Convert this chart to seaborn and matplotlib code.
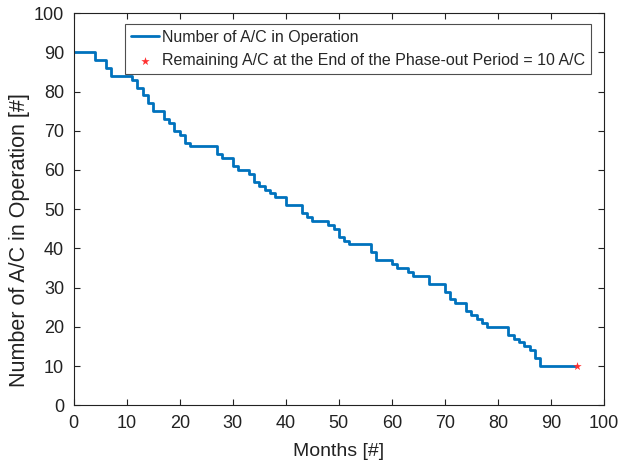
import matplotlib
matplotlib.use("Agg")
import matplotlib.pyplot as plt
import seaborn as sns
import pandas as pd

# Fleet size per month during the phase-out
months = list(range(0, 96))
aircraft = [
    90, 90, 90, 90, 88, 88, 86, 84, 84, 84,
    84, 83, 81, 79, 77, 75, 75, 73, 72, 70,
    69, 67, 66, 66, 66, 66, 66, 64, 63, 63,
    61, 60, 60, 59, 57, 56, 55, 54, 53, 53,
    51, 51, 51, 49, 48, 47, 47, 47, 46, 45,
    43, 42, 41, 41, 41, 41, 39, 37, 37, 37,
    36, 35, 35, 34, 33, 33, 33, 31, 31, 31,
    29, 27, 26, 26, 24, 23, 22, 21, 20, 20,
    20, 20, 18, 17, 16, 15, 14, 12, 10, 10,
    10, 10, 10, 10, 10, 10,
]
end_month = [95]
end_remaining = [10]

x_ticks = list(range(0, 101, 10))
y_ticks = list(range(0, 101, 10))

df = pd.DataFrame({"month": months, "aircraft": aircraft})
df_end = pd.DataFrame({"month": end_month, "aircraft": end_remaining})

sns.set_style("ticks")
plt.rcParams["font.family"] = ["Liberation Sans", "DejaVu Sans"]

fig = plt.figure(figsize=(6.2, 4.69), dpi=100)
ax = fig.add_axes([0.119, 0.136, 0.855, 0.836])

sns.lineplot(data=df, x="month", y="aircraft", ax=ax, color="#0072BD",
             linewidth=2.0, drawstyle="steps-post",
             label="Number of A/C in Operation")
sns.scatterplot(data=df_end, x="month", y="aircraft", ax=ax, color="#FF3030",
                marker="*", s=40, linewidth=0,
                label="Remaining A/C at the End of the Phase-out Period = 10 A/C",
                zorder=5)

ax.set_xlim(0, 100)
ax.set_ylim(0, 100)
ax.set_xticks(x_ticks)
ax.set_yticks(y_ticks)
ax.tick_params(direction="in", top=True, right=True, labelsize=13,
               length=4, width=0.8, colors="#222222", pad=7)
for s in ax.spines.values():
    s.set_color("#222222")
    s.set_linewidth(0.8)

ax.set_xlabel("Months [#]", fontsize=14, color="#222222", labelpad=8)
ax.set_ylabel("Number of A/C in Operation [#]", fontsize=15.5, color="#222222")
ax.yaxis.set_label_coords(-0.083, 0.42)

leg = ax.legend(loc="upper right", bbox_to_anchor=(0.975, 0.972), fontsize=11.5,
                frameon=True, fancybox=False, handlelength=1.75,
                borderpad=0.35, labelspacing=0.55, handletextpad=0.2,
                borderaxespad=0)
leg.get_frame().set_edgecolor("#222222")
leg.get_frame().set_linewidth(0.8)

fig.savefig("out.png", dpi=100)
